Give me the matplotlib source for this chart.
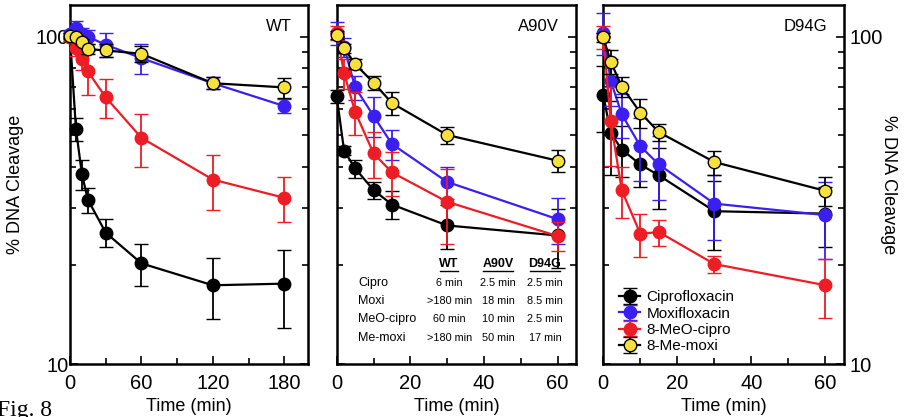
import numpy as np
import matplotlib
matplotlib.use("Agg")
import matplotlib.pyplot as plt
from matplotlib.ticker import FixedLocator, NullFormatter, LogLocator

plt.rcParams['font.family'] = ['Liberation Sans', 'DejaVu Sans']

# ---- data ----
drugs = ['Ciprofloxacin', 'Moxifloxacin', '8-MeO-cipro', '8-Me-moxi']

# WT
t_wt = [0, 5, 10, 15, 30, 60, 120, 180]
wt_cipro = [100, 52.3, 38.0, 31.8, 25.2, 20.3, 17.4, 17.6]
wt_cipro_err = [3, 4.2, 4.1, 2.8, 2.5, 3.0, 3.7, 4.7]
wt_moxi = [102, 106, 102, 100, 94.5, 86.0, 72.1, 61.4]
wt_moxi_err = [3, 6, 4, 5, 8, 9, 3, 3]
wt_meo = [100, 92.3, 85.4, 78.3, 65.3, 49.1, 36.6, 32.2]
wt_meo_err = [3, 5, 6, 12, 9, 9, 7, 5]
wt_memoxi = [100.7, 99.5, 96.3, 91.7, 90.8, 88.7, 72.1, 70.0]
wt_memoxi_err = [2, 2, 2, 3, 4, 5, 3, 4.8]

# A90V
t_mut = [0, 2, 5, 10, 15, 30, 60]
a90_cipro = [65.7, 44.9, 39.6, 34.0, 30.7, 26.5, 24.7]
a90_cipro_err = [3, 1.5, 2.5, 2, 3, 4, 5]
a90_moxi = [102.6, 93, 70.1, 57.3, 47.0, 36.0, 27.7]
a90_moxi_err = [8, 6, 6, 8, 5, 4, 4.5]
a90_meo = [102.6, 77.4, 59.0, 44.0, 38.5, 31.3, 24.6]
a90_meo_err = [5, 8, 9, 7, 6, 8, 2.5]
a90_memoxi = [101.4, 92.3, 82.5, 72.4, 62.7, 50.1, 41.8]
a90_memoxi_err = [3, 3, 3, 3.5, 5, 3, 3.3]

# D94G
d94_cipro = [66.2, 50.8, 45.2, 40.7, 37.7, 29.3, 28.8]
d94_cipro_err = [15, 13, 8, 6, 8, 7, 6]
d94_moxi = [103, 73.3, 57.9, 46.3, 40.7, 30.9, 28.5]
d94_moxi_err = [15, 12, 9, 10, 9, 7, 7.5]
d94_meo = [100, 55.2, 33.9, 25.0, 25.3, 20.2, 17.4]
d94_meo_err = [8, 15, 6, 3.7, 2.3, 1.2, 3.6]
d94_memoxi = [99.5, 83.8, 70.4, 58.6, 51.1, 41.4, 33.8]
d94_memoxi_err = [3, 7, 5, 6, 3, 3.5, 3.5]

# half-life table
tbl_cols = ['WT', 'A90V', 'D94G']
tbl_rows = ['Cipro', 'Moxi', 'MeO-cipro', 'Me-moxi']
tbl_vals = [['6 min', '2.5 min', '2.5 min'],
            ['>180 min', '18 min', '8.5 min'],
            ['60 min', '10 min', '2.5 min'],
            ['>180 min', '50 min', '17 min']]

# styles: marker face, marker edge, line colour
blue = '#3b1ff2'
red = '#ee1c25'
yellow = '#f6e13c'
styles = [('black', 'black', 'black'),
          (blue, blue, blue),
          (red, red, red),
          (yellow, 'black', 'black')]

fig = plt.figure(figsize=(9.06, 4.17), dpi=100)
W, H = 906, 417
boxes = [(70, 308), (336.7, 576), (603.3, 844)]
axes = [fig.add_axes([l / W, 1 - 364 / H, (r - l) / W, 359 / H]) for l, r in boxes]

panels = [
    ('WT', t_wt, [wt_cipro, wt_moxi, wt_meo, wt_memoxi],
     [wt_cipro_err, wt_moxi_err, wt_meo_err, wt_memoxi_err]),
    ('A90V', t_mut, [a90_cipro, a90_moxi, a90_meo, a90_memoxi],
     [a90_cipro_err, a90_moxi_err, a90_meo_err, a90_memoxi_err]),
    ('D94G', t_mut, [d94_cipro, d94_moxi, d94_meo, d94_memoxi],
     [d94_cipro_err, d94_moxi_err, d94_meo_err, d94_memoxi_err]),
]

for i, (ax, (name, t, ys, errs)) in enumerate(zip(axes, panels)):
    for k in range(4):
        fc, ec, lc = styles[k]
        ax.errorbar(t, ys[k], yerr=errs[k], color=lc, ecolor=lc, lw=1.6,
                    elinewidth=1.3, capsize=5, capthick=1.3,
                    marker='o', ms=9, mfc=fc, mec=ec, mew=1.0,
                    clip_on=False, zorder=3 + k, label=drugs[k])
    ax.set_yscale('log')
    ax.set_ylim(10, 125)
    if i == 0:
        ax.set_xlim(0, 200)
        ax.set_xticks([0, 60, 120, 180])
        ax.xaxis.set_minor_locator(FixedLocator([30, 90, 150]))
    else:
        ax.set_xlim(0, 65)
        ax.set_xticks([0, 20, 40, 60])
        ax.xaxis.set_minor_locator(FixedLocator([10, 30, 50]))
    ax.yaxis.set_major_locator(FixedLocator([10, 100]))
    ax.yaxis.set_minor_locator(LogLocator(base=10, subs=np.arange(2, 10)))
    ax.yaxis.set_minor_formatter(NullFormatter())
    ax.set_yticklabels(['10', '100'])
    ax.tick_params(which='both', direction='in', top=False, right=True,
                   labelsize=14.5, width=1.2)
    ax.tick_params(which='major', length=6)
    ax.tick_params(which='minor', length=4)
    ax.tick_params(axis='x', pad=7)
    for s in ax.spines.values():
        s.set_linewidth(1.8)
    ax.set_xlabel('Time (min)', fontsize=13, labelpad=4)
    ax.text(0.93, 0.96, name, transform=ax.transAxes, ha='right', va='top',
            fontsize=12)
    if i == 0:
        ax.set_ylabel('% DNA Cleavage', fontsize=13, labelpad=8)
        ax.tick_params(axis='y', pad=1)
    elif i == 1:
        ax.tick_params(axis='y', labelleft=False)
    else:
        ax.tick_params(axis='y', labelleft=False, labelright=True, pad=4)
        ax.yaxis.set_label_position('right')
        ax.set_ylabel('% DNA Cleavage', fontsize=13, rotation=270,
                      labelpad=10)

# half-life table in the A90V panel
ax = axes[1]
col_x = [0.47, 0.675, 0.87]
row_y = [0.225, 0.175, 0.125, 0.073]
for cx, c in zip(col_x, tbl_cols):
    ax.text(cx, 0.262, c, transform=ax.transAxes, ha='center', va='bottom',
            fontsize=9, fontweight='bold')
    half = 0.012 * len(c) + 0.014
    ax.plot([cx - half, cx + half], [0.258, 0.258], transform=ax.transAxes,
            color='black', lw=1.0, clip_on=False)
for ry, rname, vals in zip(row_y, tbl_rows, tbl_vals):
    ax.text(0.09, ry, rname, transform=ax.transAxes, ha='left', va='center',
            fontsize=9)
    for cx, v in zip(col_x, vals):
        ax.text(cx, ry, v, transform=ax.transAxes, ha='center', va='center',
                fontsize=7.8)

# legend in D94G panel
axes[2].legend(loc='lower left', bbox_to_anchor=(0.02, 0.0), frameon=False,
               fontsize=11, handlelength=1.4, handletextpad=0.4,
               labelspacing=0.15, borderaxespad=0.3)

fig.text(-0.003, 1 - 400 / H, 'Fig. 8', family=['Liberation Serif', 'DejaVu Serif'],
         fontsize=17, ha='left', va='top')

fig.savefig('out.png', dpi=100)
